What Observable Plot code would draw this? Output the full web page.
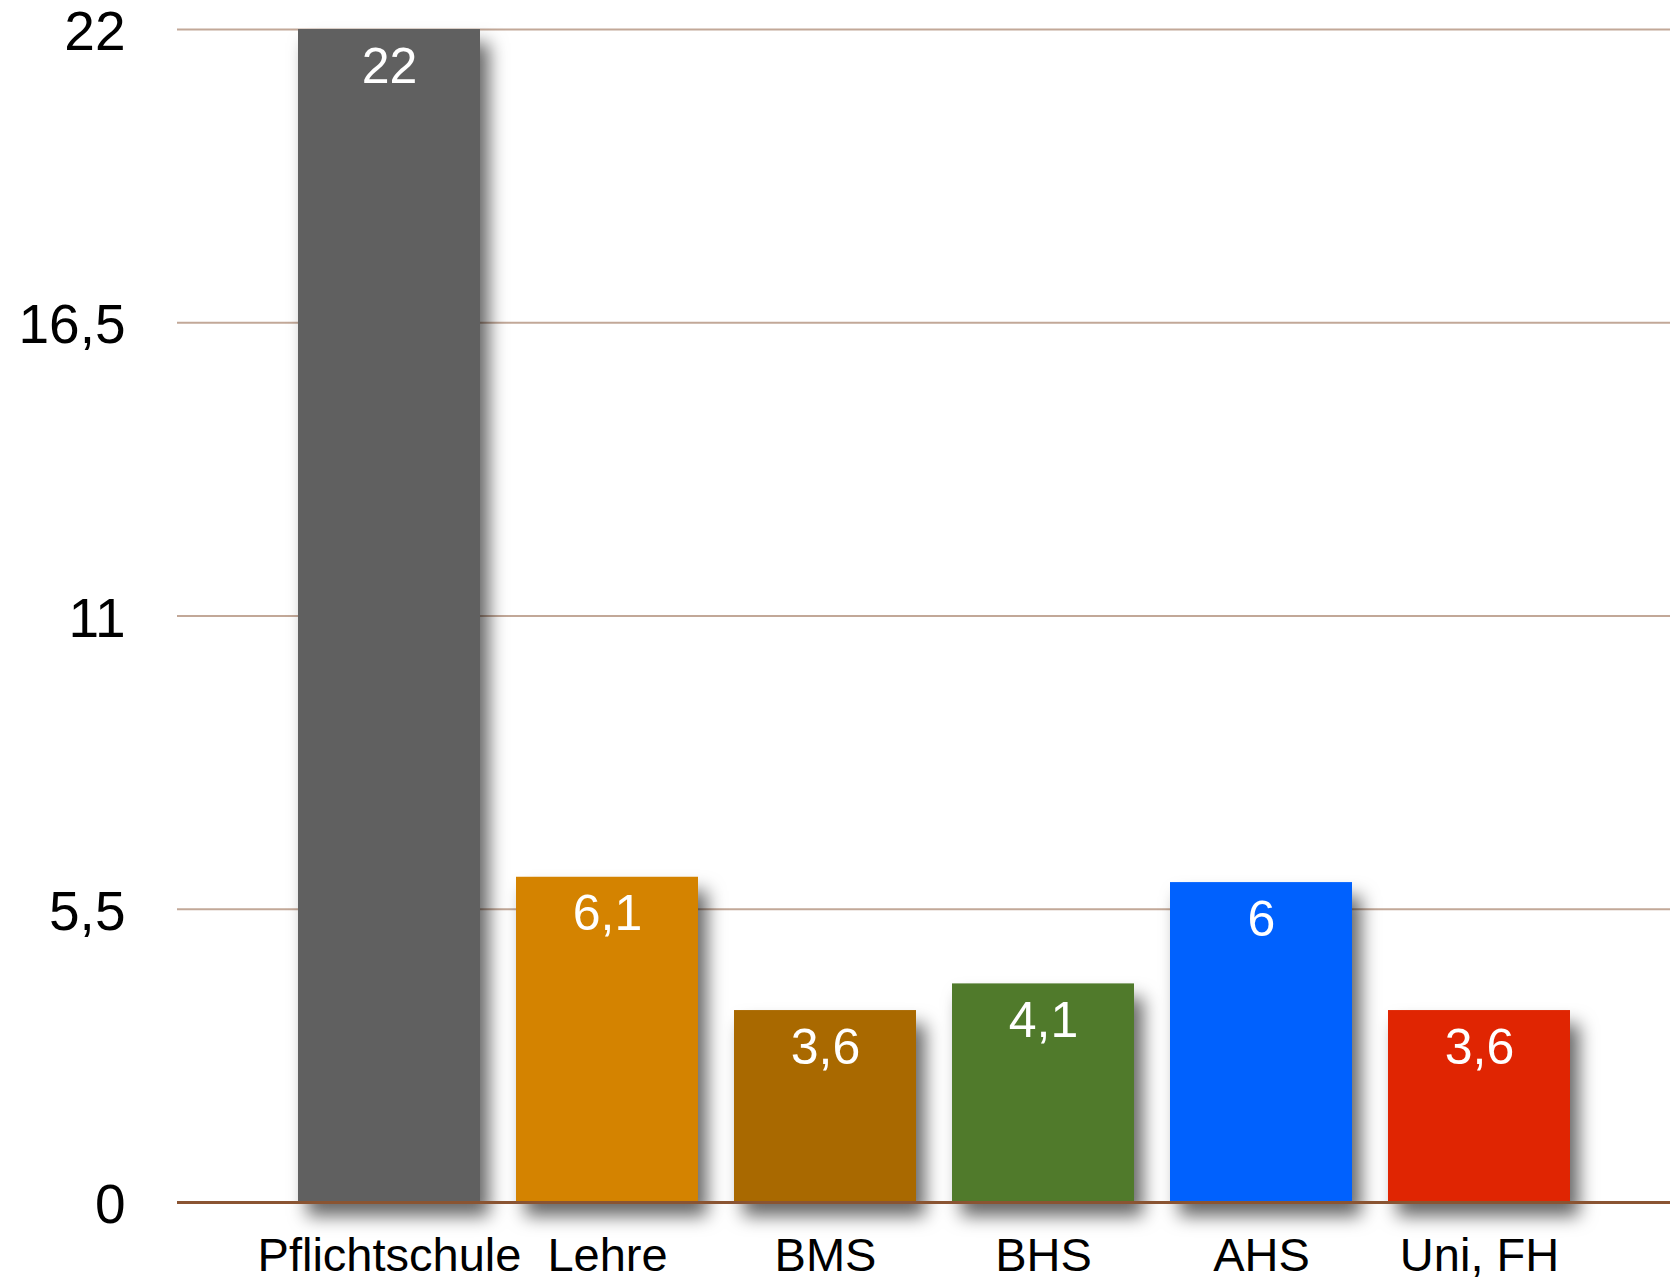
<!DOCTYPE html>
<html>
<head>
<meta charset="utf-8">
<script src="https://cdn.jsdelivr.net/npm/d3@7"></script>
<script src="https://cdn.jsdelivr.net/npm/@observablehq/plot@0.6"></script>
<style>
  html, body { margin: 0; padding: 0; background: #fff; }
  #chart svg { display: block; }
  .bars { filter: drop-shadow(9px 14px 9px rgba(0,0,0,0.6)); }
</style>
</head>
<body>
<div id="chart"></div>
<script>
const categories = ["Pflichtschule", "Lehre", "BMS", "BHS", "AHS", "Uni, FH"];
const values = [22, 6.1, 3.6, 4.1, 6, 3.6];
const colors = ["#606060", "#d48300", "#a96900", "#507a2b", "#0061fe", "#e02502"];
const yTicks = [0, 5.5, 11, 16.5, 22];

const fmt = d => String(d).replace(".", ",");
const data = categories.map((c, i) => ({category: c, value: values[i], color: colors[i]}));

const chart = Plot.plot({
  width: 1670,
  height: 1282,
  marginTop: 29,
  marginBottom: 80,
  marginLeft: 177,
  marginRight: 0,
  style: {fontFamily: "'Liberation Sans', Helvetica, Arial, sans-serif", background: "#fff", color: "#000"},
  x: {domain: categories, range: [259, 1609], padding: 0.165, label: null},
  y: {domain: [0, 22], label: null},
  marks: [
    Plot.ruleY(yTicks.filter(d => d > 0), {stroke: "#c2a898", strokeWidth: 2}),
    Plot.barY(data, {x: "category", y: "value", fill: "color", className: "bars"}),
    Plot.ruleY([0], {stroke: "#8a5432", strokeWidth: 3}),
    Plot.text(data, {x: "category", y: "value", text: d => fmt(d.value), fill: "#fff", fontSize: 50, dy: 37}),
    Plot.axisY({ticks: yTicks, tickFormat: fmt, tickSize: 0, tickPadding: 52, fontSize: 55, dy: 3, label: null}),
    Plot.axisX({tickSize: 0, tickPadding: 35, fontSize: 47, label: null})
  ]
});
document.getElementById("chart").appendChild(chart);
</script>
</body>
</html>
